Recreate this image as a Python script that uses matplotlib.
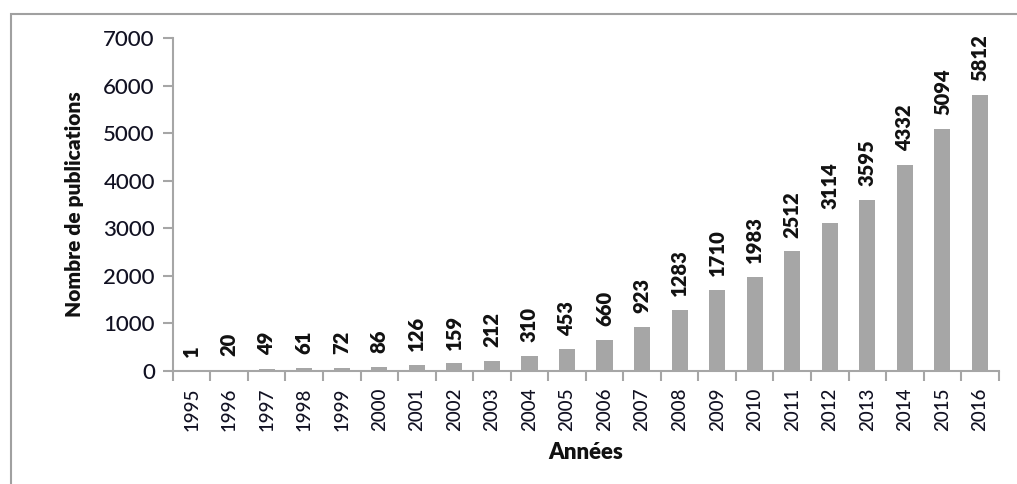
import matplotlib.pyplot as plt
from matplotlib.patches import Rectangle
import numpy as np

plt.rcParams['font.family'] = ['Lato', 'DejaVu Sans']

# Nombre de publications par année
annees = ['1995', '1996', '1997', '1998', '1999', '2000', '2001', '2002', '2003', '2004', '2005',
          '2006', '2007', '2008', '2009', '2010', '2011', '2012', '2013', '2014', '2015', '2016']
publications = [1, 20, 49, 61, 72, 86, 126, 159, 212, 310, 453,
                660, 923, 1283, 1710, 1983, 2512, 3114, 3595, 4332, 5094, 5812]

fig = plt.figure(figsize=(10.17, 4.84), dpi=100)
ax = fig.add_axes([0.170, 0.2335, 0.812, 0.688])

x = np.arange(len(annees))
ax.bar(x, publications, width=0.43, color='#a6a6a6')

# étiquettes de valeurs au-dessus des barres
for xi, v in zip(x, publications):
    ax.annotate(str(v), (xi, v), xytext=(0, 10), textcoords='offset points',
                rotation=90, ha='center', va='bottom', fontsize=14.5, fontweight='heavy',
                color='#111111')

ax.set_xlim(-0.5, len(annees) - 0.5)
ax.set_ylim(0, 7000)
ax.set_yticks(range(0, 7001, 1000))
ax.tick_params(axis='y', labelsize=16, length=7, width=1.5, color='#a6a6a6', pad=6,
               labelcolor='#111122')
for lab in ax.get_yticklabels():
    lab.set_fontweight('medium')

ax.set_xticks(x)
ax.set_xticklabels(annees, rotation=90, fontsize=13.5, color='#111122', fontweight='medium')
ax.set_xticks(np.arange(-0.5, len(annees), 1), minor=True)
ax.tick_params(axis='x', which='major', length=0, pad=12)
ax.tick_params(axis='x', which='minor', length=7, width=1.5, color='#a6a6a6')

for s in ['top', 'right']:
    ax.spines[s].set_visible(False)
for s in ['left', 'bottom']:
    ax.spines[s].set_color('#a6a6a6')
    ax.spines[s].set_linewidth(1.5)

ax.set_ylabel('Nombre de publications', fontsize=15, fontweight='heavy', labelpad=14,
              color='#111111')
ax.set_xlabel('Années', fontsize=16, fontweight='heavy', labelpad=8, color='#111111')

# cadre autour du graphique
fig.patches.append(Rectangle((11 / 1017, -0.1), 1.2, 1 - 14 / 484 + 0.1,
                             transform=fig.transFigure, fill=False,
                             edgecolor='#a0a0a0', linewidth=1.5))

fig.savefig('out.png', dpi=100)
